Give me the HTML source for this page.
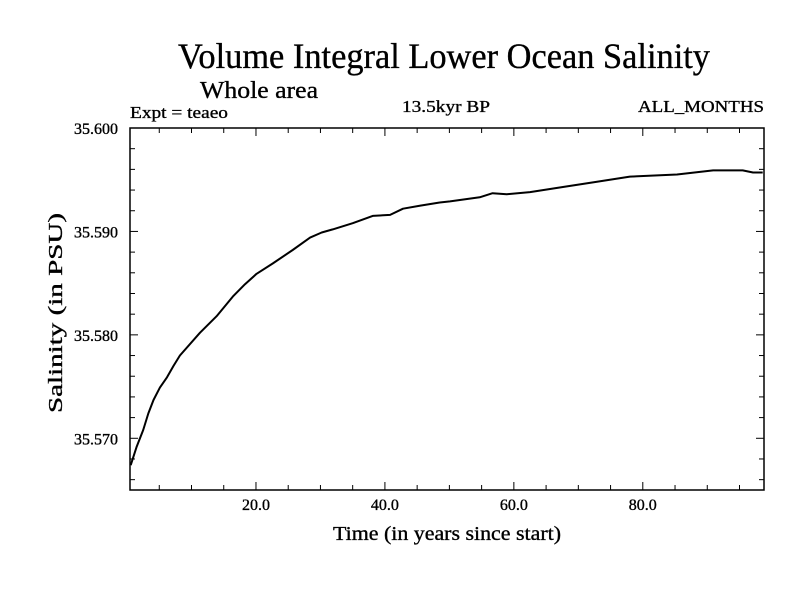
<!DOCTYPE html>
<html><head><meta charset="utf-8"><style>html,body{margin:0;padding:0;background:#fff}svg{display:block}text{font-family:"Liberation Serif",serif;fill:#000;stroke:#000;stroke-width:0.35}</style></head>
<body>
<svg id="chart" width="800" height="600" viewBox="0 0 800 600" xmlns="http://www.w3.org/2000/svg">
<rect width="800" height="600" fill="#fff"/>
<text x="178" y="68" font-size="36" textLength="532" lengthAdjust="spacingAndGlyphs">Volume Integral Lower Ocean Salinity</text>
<text x="200" y="98" font-size="24" textLength="118" lengthAdjust="spacingAndGlyphs">Whole area</text>
<text x="130" y="118" font-size="17" textLength="98" lengthAdjust="spacingAndGlyphs">Expt = teaeo</text>
<text x="402" y="112" font-size="17" textLength="88" lengthAdjust="spacingAndGlyphs">13.5kyr BP</text>
<text x="638" y="112" font-size="17" textLength="126" lengthAdjust="spacingAndGlyphs">ALL_MONTHS</text>
<text x="333" y="540" font-size="20" textLength="228" lengthAdjust="spacingAndGlyphs">Time (in years since start)</text>
<text transform="translate(62,413) rotate(-90)" font-size="20" textLength="200" lengthAdjust="spacingAndGlyphs">Salinity (in PSU)</text>
<g id="axes"></g>
<g id="series"></g>
<rect x="130" y="128" width="634" height="362" fill="none" stroke="#000" stroke-width="1.5"/>
</svg>
<script>
const years = [0.57,1.5,2.5,3.3,4.1,5.1,6.2,7.2,8.2,11.3,13.9,16.4,18.3,20.1,22.6,25.7,28.4,30.2,31.9,35.0,38.1,40.8,42.8,45.5,48.5,50.1,54.7,56.7,58.9,62.5,67.6,72.9,78.0,85.3,90.9,95.5,97.1,98.6];
const salinity = [35.5674,35.5692,35.5708,35.5724,35.5737,35.5749,35.5759,35.5770,35.5780,35.5802,35.5818,35.5837,35.5849,35.5859,35.5869,35.5882,35.5894,35.5899,35.5902,35.5908,35.5915,35.5916,35.5922,35.5925,35.5928,35.5929,35.5933,35.5937,35.5936,35.5938,35.5943,35.5948,35.5953,35.5955,35.5959,35.5959,35.5957,35.5957];
const xTickLabels = ["20.0","40.0","60.0","80.0"];
const xTickValues = [20,40,60,80];
const yTickLabels = ["35.570","35.580","35.590","35.600"];
const yTickValues = [35.570,35.580,35.590,35.600];
const NS="http://www.w3.org/2000/svg";
const X0=130,X1=764,Y0=128,Y1=490,xmin=0.46,xmax=98.8,ymin=35.565,ymax=35.600;
const sx=v=>X0+(v-xmin)/(xmax-xmin)*(X1-X0);
const sy=v=>Y1-(v-ymin)/(ymax-ymin)*(Y1-Y0);
const axes=document.getElementById('axes');
function ln(x1,y1,x2,y2,name){const l=document.createElementNS(NS,'line');l.setAttribute('x1',x1);l.setAttribute('y1',y1);l.setAttribute('x2',x2);l.setAttribute('y2',y2);l.setAttribute('stroke','#000');l.setAttribute('stroke-width','1');


axes.appendChild(l);}
for(let v=5;v<xmax;v+=5){const x=sx(v);const big=v%20===0;const L=big?8:5;ln(x,Y1,x,Y1-L,'x-tick');ln(x,Y0,x,Y0+L,'x-tick-top');}
for(let k=0;k<=17;k++){const v=35.566+k*0.002;if(v>ymax+1e-9)break;const y=sy(v);const big=Math.abs(((v-35.57)/0.01)-Math.round((v-35.57)/0.01))<1e-6;const L=big?8:5;ln(X0,y,X0+L,y,'y-tick');ln(X1,y,X1-L,y,'y-tick-right');}
xTickValues.forEach((v,i)=>{const t=document.createElementNS(NS,'text');t.setAttribute('x',sx(v));t.setAttribute('y',510);t.setAttribute('font-size','16');t.setAttribute('text-anchor','middle');t.textContent=xTickLabels[i];


axes.appendChild(t);});
yTickValues.forEach((v,i)=>{const t=document.createElementNS(NS,'text');t.setAttribute('x',118);t.setAttribute('y',sy(v)+6);t.setAttribute('font-size','16');t.setAttribute('text-anchor','end');t.textContent=yTickLabels[i];


axes.appendChild(t);});
const p=document.createElementNS(NS,'polyline');
p.setAttribute('points',years.map((x,i)=>sx(x).toFixed(1)+','+sy(salinity[i]).toFixed(1)).join(' '));
p.setAttribute('fill','none');p.setAttribute('stroke','#000');p.setAttribute('stroke-width','2');p.setAttribute('stroke-linejoin','round');


document.getElementById('series').appendChild(p);
</script>
</body></html>
